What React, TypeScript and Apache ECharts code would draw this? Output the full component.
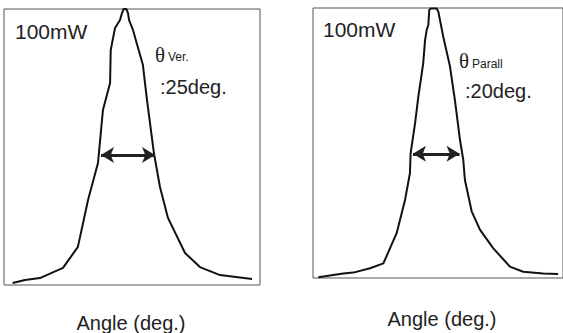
import React, { useEffect, useRef } from "react";
import * as echarts from "echarts";

// Left panel: vertical far-field pattern (angle deg, relative intensity)
const leftAngles = [-52.0, -46.3, -39.4, -28.7, -21.8, -17.1, -12.5, -10.2, -6.9, -6.6, -4.6, -2.3, -1.4, -0.6, 0.6, 1.4, 1.9, 3.7, 8.3, 10.2, 13.4, 16.2, 19.9, 27.8, 34.7, 44.0, 58.8];
const leftIntensity = [0.007, 0.018, 0.025, 0.062, 0.138, 0.308, 0.442, 0.634, 0.732, 0.851, 0.931, 0.96, 0.985, 1.0, 1.0, 0.985, 0.96, 0.924, 0.797, 0.67, 0.478, 0.355, 0.243, 0.116, 0.065, 0.036, 0.022];
const leftArrow = [-11.1, 13.9];
const leftArrowLevel = 0.471;

// Right panel: parallel far-field pattern
const rightAngles = [-49.2, -38.5, -34.2, -27.0, -21.3, -15.6, -12.0, -9.9, -9.6, -7.7, -6.3, -4.2, -3.4, -2.7, -2.0, -1.6, -1.0, 1.6, 2.3, 4.4, 7.3, 9.4, 11.6, 13.0, 13.7, 16.6, 20.2, 25.9, 33.0, 38.7, 47.3, 53.7];
const rightIntensity = [0.003, 0.017, 0.02, 0.036, 0.054, 0.166, 0.289, 0.388, 0.462, 0.573, 0.671, 0.795, 0.881, 0.919, 0.937, 0.993, 0.998, 0.998, 0.986, 0.894, 0.783, 0.659, 0.511, 0.437, 0.363, 0.247, 0.178, 0.11, 0.042, 0.023, 0.017, 0.015];
const rightArrow = [-8.6, 11.4];
const rightArrowLevel = 0.46;

const powerLabel = "100mW";
const leftTheta = "Ver.";
const leftWidth = ":25deg.";
const rightTheta = "Parall";
const rightWidth = ":20deg.";
const axisTitle = "Angle (deg.)";

export default function App() {
  const ref = useRef<HTMLDivElement>(null);
  useEffect(() => {
    if (!ref.current) return;
    const chart = echarts.init(ref.current, null, { renderer: "svg" });
    const font = "'Liberation Sans', Arial, sans-serif";
    const serif = "'Liberation Serif', 'Times New Roman', serif";
    const textColor = "#222";
    const mkLine = (xs: number[], ys: number[]) => xs.map((x, i) => [x, ys[i]]);
    const arrowMark = (a: number[], lvl: number) => ({
      silent: true,
      symbol: ["arrow", "arrow"],
      symbolSize: [12, 13],
      label: { show: false },
      lineStyle: { color: "#222", width: 3, type: "solid" },
      data: [[{ coord: [a[0], lvl] }, { coord: [a[1], lvl] }]],
    });
    const axisCommon = {
      axisLine: { show: false },
      axisTick: { show: false },
      axisLabel: { show: false },
      splitLine: { show: false },
    };
    const t = (x: number, y: number, text: string, f: string, align = "left") => ({
      type: "text",
      x,
      y,
      style: { text, font: f, fill: textColor, textAlign: align, textVerticalAlign: "middle" },
    });
    chart.setOption({
      animation: false,
      grid: [
        { left: 4, top: 9, width: 256, height: 276, show: true, borderColor: "#555", borderWidth: 1, backgroundColor: "transparent" },
        { left: 313, top: 8, width: 250, height: 270, show: true, borderColor: "#555", borderWidth: 1, backgroundColor: "transparent" },
      ],
      xAxis: [
        { type: "value", gridIndex: 0, min: -56, max: 62.5, ...axisCommon },
        { type: "value", gridIndex: 1, min: -51.5, max: 55.8, ...axisCommon },
      ],
      yAxis: [
        { type: "value", gridIndex: 0, min: 0, max: 1, ...axisCommon },
        { type: "value", gridIndex: 1, min: 0, max: 1, ...axisCommon },
      ],
      series: [
        {
          type: "line",
          xAxisIndex: 0,
          yAxisIndex: 0,
          data: mkLine(leftAngles, leftIntensity),
          showSymbol: false,
          lineStyle: { color: "#111", width: 2 },
          markLine: arrowMark(leftArrow, leftArrowLevel),
        },
        {
          type: "line",
          xAxisIndex: 1,
          yAxisIndex: 1,
          data: mkLine(rightAngles, rightIntensity),
          showSymbol: false,
          lineStyle: { color: "#111", width: 2 },
          markLine: arrowMark(rightArrow, rightArrowLevel),
        },
      ],
      graphic: [
        t(15, 31.5, powerLabel, `21px ${font}`),
        t(155, 55, "θ", `21px ${serif}`),
        t(168, 57, leftTheta, `12px ${font}`),
        t(160, 86.5, leftWidth, `20px ${font}`),
        t(323, 29.5, powerLabel, `21px ${font}`),
        t(459, 61, "θ", `21px ${serif}`),
        t(472, 63.5, rightTheta, `12px ${font}`),
        t(465, 90.5, rightWidth, `20px ${font}`),
        t(131, 323, axisTitle, `20px ${font}`, "center"),
        t(442, 319, axisTitle, `20px ${font}`, "center"),
      ],
    });
    return () => chart.dispose();
  }, []);
  return (
    <div
      ref={ref}
      style={{ position: "fixed", left: 0, top: 0, width: 563, height: 333, background: "#fff" }}
    />
  );
}
